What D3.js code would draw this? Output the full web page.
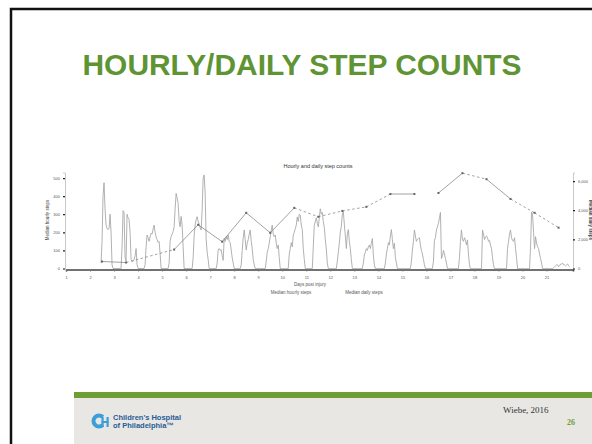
<!DOCTYPE html>
<html>
<head>
<meta charset="utf-8">
<script src="https://cdn.jsdelivr.net/npm/d3@7"></script>
<style>
  html, body { margin: 0; padding: 0; background: #fff; }
  svg { display: block; font-family: "Liberation Sans", Arial, sans-serif; }
</style>
</head>
<body>
<div id="slide"></div>
<script>
// Days post injury shown on the x axis
const dayTicks = d3.range(1, 22);

// Median hourly steps, one row of 24 hours per day (null = not recorded yet)
const hourlyDays = [2, 3, 4, 5, 6, 7, 8, 9, 10, 11, 12, 13, 14, 15, 16, 17, 18, 19, 20, 21];
const hourlySteps = [
  [null, null, null, null, null, null, null, null, null, null, null, 30, 150, 400, 474, 330, 240, 220, 215, 220, 300, 200, 20, 0],
  [0, 0, 0, 0, 0, 0, 0, 0, 120, 320, 310, 60, 40, 300, 280, 270, 200, 50, 40, 40, 50, 70, 110, 20],
  [0, 0, 0, 0, 0, 0, 0, 20, 120, 185, 170, 150, 175, 195, 190, 218, 240, 200, 175, 160, 145, 150, 80, 0],
  [0, 0, 0, 0, 0, 0, 0, 30, 150, 176, 190, 204, 230, 330, 415, 390, 360, 260, 230, 288, 240, 120, 0, 0],
  [0, 0, 0, 0, 0, 0, 0, 60, 180, 240, 270, 286, 260, 245, 225, 213, 330, 500, 517, 415, 160, 90, 50, 0],
  [0, 0, 0, 0, 0, 0, 0, 30, 102, 110, 100, 105, 70, 45, 167, 150, 176, 160, 185, 150, 143, 102, 60, 30],
  [0, 0, 0, 0, 0, 0, 0, 20, 100, 170, 213, 160, 102, 140, 160, 190, 213, 150, 110, 50, 20, 0, 0, 0],
  [0, 0, 0, 0, 0, 0, 0, 0, 40, 90, 110, 140, 176, 210, 240, 190, 176, 185, 140, 110, 130, 60, 0, 0],
  [0, 0, 0, 0, 0, 0, 0, 80, 110, 143, 120, 185, 200, 220, 240, 285, 260, 300, 295, 240, 215, 110, 50, 0],
  [0, 0, 0, 0, 0, 0, 0, 120, 238, 260, 280, 250, 230, 280, 330, 300, 310, 260, 227, 160, 108, 30, 0, 0],
  [0, 0, 0, 0, 0, 0, 0, 40, 90, 140, 200, 232, 300, 315, 245, 180, 110, 190, 215, 150, 110, 50, 0, 0],
  [0, 0, 0, 0, 0, 0, 0, 0, 0, 30, 75, 90, 110, 100, 120, 130, 110, 140, 165, 75, 20, 0, 0, 0],
  [0, 0, 0, 0, 0, 0, 0, 30, 80, 110, 143, 130, 180, 215, 160, 110, 140, 60, 30, 0, 0, 0, 0, 0],
  [0, 0, 0, 0, 0, 0, 0, 0, 0, 40, 102, 150, 213, 180, 150, 160, 165, 170, 130, 100, 80, 50, 20, 0],
  [0, 0, 0, 0, 0, 0, 0, 40, 155, 170, 213, 230, 250, 280, 310, 55, 70, 100, 80, 55, 30, 0, 0, 0],
  [0, 0, 0, 0, 0, 0, 0, 0, 0, 60, 150, 213, 160, 150, 170, 155, 130, 158, 80, 20, 0, 0, 0, 0],
  [0, 0, 0, 0, 0, 0, 0, 0, 213, 190, 160, 175, 180, 170, 150, 155, 130, 110, 60, 20, 0, 0, 0, 0],
  [0, 0, 0, 0, 0, 0, 0, 0, 0, 110, 150, 190, 213, 170, 155, 150, 170, 110, 60, 0, 0, 0, 0, 0],
  [0, 0, 0, 0, 0, 0, 0, 0, 120, 312, 296, 200, 110, 176, 140, 120, 110, 80, 55, 30, 0, 0, 0, 0],
  [0, 0, 0, 0, 0, 0, 0, 5, 10, 15, 20, 20, 10, 15, 25, 25, 30, 20, 20, 15, 20, 25, 15, 10]
];

// Median daily steps
const dailyDays = [2, 3, 5, 6, 7, 8, 9, 10, 11, 12, 13, 14, 15, 16, 17, 18, 19, 20, 21];
const dailySteps = [480, 410, 1300, 3000, 1840, 3820, 2450, 4160, 3550, 3950, 4230, 5110, 5110, 5180, 6540, 6130, 4770, 3820, 2800];
// link from each daily point to the next one
const dailyLinkType = ["observed", "estimated", "observed", "observed", "observed", "observed", "observed",
  "estimated", "estimated", "estimated", "estimated", "observed", "none", "observed", "estimated",
  "observed", "estimated", "estimated"];

const hourlyTicks = [0, 100, 200, 300, 400, 500];
const dailyTicks = [0, 2000, 4000, 6000];

const W = 592, H = 444;
const svg = d3.select("#slide").append("svg")
    .attr("width", W)
    .attr("height", H);

svg.append("rect").attr("width", W).attr("height", H).attr("fill", "#fff");

// slide frame
svg.append("path")
    .attr("d", "M11,444 V9 H592")
    .attr("fill", "none")
    .attr("stroke", "#111")
    .attr("stroke-width", 2.5);

// slide title
svg.append("text")
    .attr("x", 302)
    .attr("y", 75)
    .attr("text-anchor", "middle")
    .attr("textLength", 439)
    .attr("lengthAdjust", "spacingAndGlyphs")
    .style("font-size", "29px")
    .style("font-weight", "bold")
    .style("fill", "#5f9434")
    .text("HOURLY/DAILY STEP COUNTS");

// chart scales
const x = d3.scaleLinear().domain([1, 22.1]).range([66, 573]);
const yH = d3.scaleLinear().domain([0, 530]).range([268.5, 172.6]);
const yD = d3.scaleLinear().domain([0, 6580]).range([268.5, 172.6]);

const chart = svg.append("g");

chart.append("text")
    .attr("x", 318).attr("y", 168)
    .attr("text-anchor", "middle")
    .style("font-size", "5.5px")
    .style("fill", "#333")
    .text("Hourly and daily step counts");

// axes
const xAxis = chart.append("g")
    .attr("transform", "translate(0,269.5)")
    .call(d3.axisBottom(x).tickValues(dayTicks).tickSize(2).tickPadding(5).tickFormat(d3.format("d")));
xAxis.select(".domain").attr("stroke", "#444").attr("stroke-width", 1.6);
xAxis.selectAll(".tick line").attr("stroke", "#777");
xAxis.selectAll("text").style("font-size", "4px").attr("fill", "#555");

const yAxisL = chart.append("g")
    .attr("transform", "translate(65,0)")
    .call(d3.axisLeft(yH).tickValues(hourlyTicks).tickSize(2));
yAxisL.select(".domain").attr("stroke", "#bbb").attr("stroke-width", 0.8);
yAxisL.selectAll(".tick line").attr("stroke", "#222").attr("stroke-width", 1.2);
yAxisL.selectAll("text").style("font-size", "4px").attr("fill", "#555");

const yAxisR = chart.append("g")
    .attr("transform", "translate(573,0)")
    .call(d3.axisRight(yD).tickValues(dailyTicks).tickSize(2));
yAxisR.select(".domain").attr("stroke", "#bbb").attr("stroke-width", 0.8);
yAxisR.selectAll(".tick line").attr("stroke", "#222").attr("stroke-width", 1.2);
yAxisR.selectAll("text").style("font-size", "4px").attr("fill", "#555");

chart.append("text")
    .attr("transform", "translate(49,220) rotate(-90)")
    .attr("text-anchor", "middle")
    .style("font-size", "4.5px")
    .style("fill", "#444")
    .text("Median hourly steps");

chart.append("text")
    .attr("transform", "translate(589,220) rotate(90)")
    .attr("text-anchor", "middle")
    .style("font-size", "4.5px")
    .style("font-weight", "bold")
    .style("fill", "#444")
    .text("Median daily steps");

chart.append("text")
    .attr("x", 310).attr("y", 286)
    .attr("text-anchor", "middle")
    .style("font-size", "4.5px")
    .style("fill", "#555")
    .text("Days post injury");

// hourly series
const hourlyPoints = [];
hourlyDays.forEach((d, i) => {
  hourlySteps[i].forEach((v, h) => {
    if (v !== null) hourlyPoints.push({ t: d + h / 24, v: v });
  });
});

chart.append("path")
    .datum(hourlyPoints)
    .attr("fill", "none")
    .attr("stroke", "#a8a8a8")
    .attr("stroke-width", 0.9)
    .attr("d", d3.line().x(p => x(p.t)).y(p => yH(p.v)));

// daily series (plotted at the middle of each day)
const dailyPoints = dailyDays.map((d, i) => ({ t: d + 0.5, v: dailySteps[i] }));
const links = dailyLinkType.map((k, i) => ({ a: dailyPoints[i], b: dailyPoints[i + 1], k: k }))
    .filter(l => l.k !== "none");

chart.selectAll(".dlink")
    .data(links)
    .enter()
    .append("line")
    .attr("x1", l => x(l.a.t)).attr("y1", l => yD(l.a.v))
    .attr("x2", l => x(l.b.t)).attr("y2", l => yD(l.b.v))
    .attr("stroke", "#7a7a7a")
    .attr("stroke-width", 0.7)
    .attr("stroke-dasharray", l => l.k === "estimated" ? "2.5,2.5" : null);

chart.selectAll(".dpt")
    .data(dailyPoints)
    .enter()
    .append("rect")
    .attr("x", p => x(p.t) - 1)
    .attr("y", p => yD(p.v) - 1)
    .attr("width", 2)
    .attr("height", 2)
    .attr("fill", "#666");

// legend
chart.append("text")
    .attr("x", 291).attr("y", 294)
    .attr("text-anchor", "middle")
    .style("font-size", "4.5px")
    .style("fill", "#555")
    .text("Median hourly steps");
chart.append("text")
    .attr("x", 364).attr("y", 294)
    .attr("text-anchor", "middle")
    .style("font-size", "4.5px")
    .style("fill", "#555")
    .text("Median daily steps");

// footer
svg.append("rect")
    .attr("x", 74).attr("y", 398).attr("width", W - 74).attr("height", H - 398)
    .attr("fill", "#e9e7e3");
svg.append("rect")
    .attr("x", 74).attr("y", 392).attr("width", W - 74).attr("height", 6)
    .attr("fill", "#6f9e37");

// CHOP logo: open "C" with an "H" set into it
const logo = svg.append("g").attr("transform", "translate(99,421)");
logo.append("path")
    .attr("d", d3.arc()({ innerRadius: 3.4, outerRadius: 7.5,
      startAngle: Math.PI / 2 + 0.8, endAngle: Math.PI / 2 + 2 * Math.PI - 0.8 }))
    .attr("fill", "#3d9fd8");
logo.append("rect").attr("x", 2.5).attr("y", -4).attr("width", 2.2).attr("height", 10).attr("fill", "#3d9fd8");
logo.append("rect").attr("x", 7.5).attr("y", -4).attr("width", 2.2).attr("height", 10).attr("fill", "#3d9fd8");
logo.append("rect").attr("x", 2.5).attr("y", 0).attr("width", 7).attr("height", 2).attr("fill", "#3d9fd8");

svg.append("text")
    .attr("x", 113).attr("y", 420)
    .style("font-size", "7.5px")
    .style("font-weight", "bold")
    .style("fill", "#1f5c96")
    .text("Children's Hospital");
svg.append("text")
    .attr("x", 113).attr("y", 428)
    .style("font-size", "7.5px")
    .style("font-weight", "bold")
    .style("fill", "#1f5c96")
    .text("of Philadelphia\u2122");

svg.append("text")
    .attr("x", 503).attr("y", 413)
    .style("font-family", "'Liberation Serif', 'DejaVu Serif', serif")
    .style("font-size", "9px")
    .style("fill", "#333")
    .text("Wiebe, 2016");

svg.append("text")
    .attr("x", 567).attr("y", 425)
    .style("font-family", "'Liberation Serif', 'DejaVu Serif', serif")
    .style("font-size", "8px")
    .style("font-weight", "bold")
    .style("fill", "#6f9e37")
    .text("26");
</script>
</body>
</html>
